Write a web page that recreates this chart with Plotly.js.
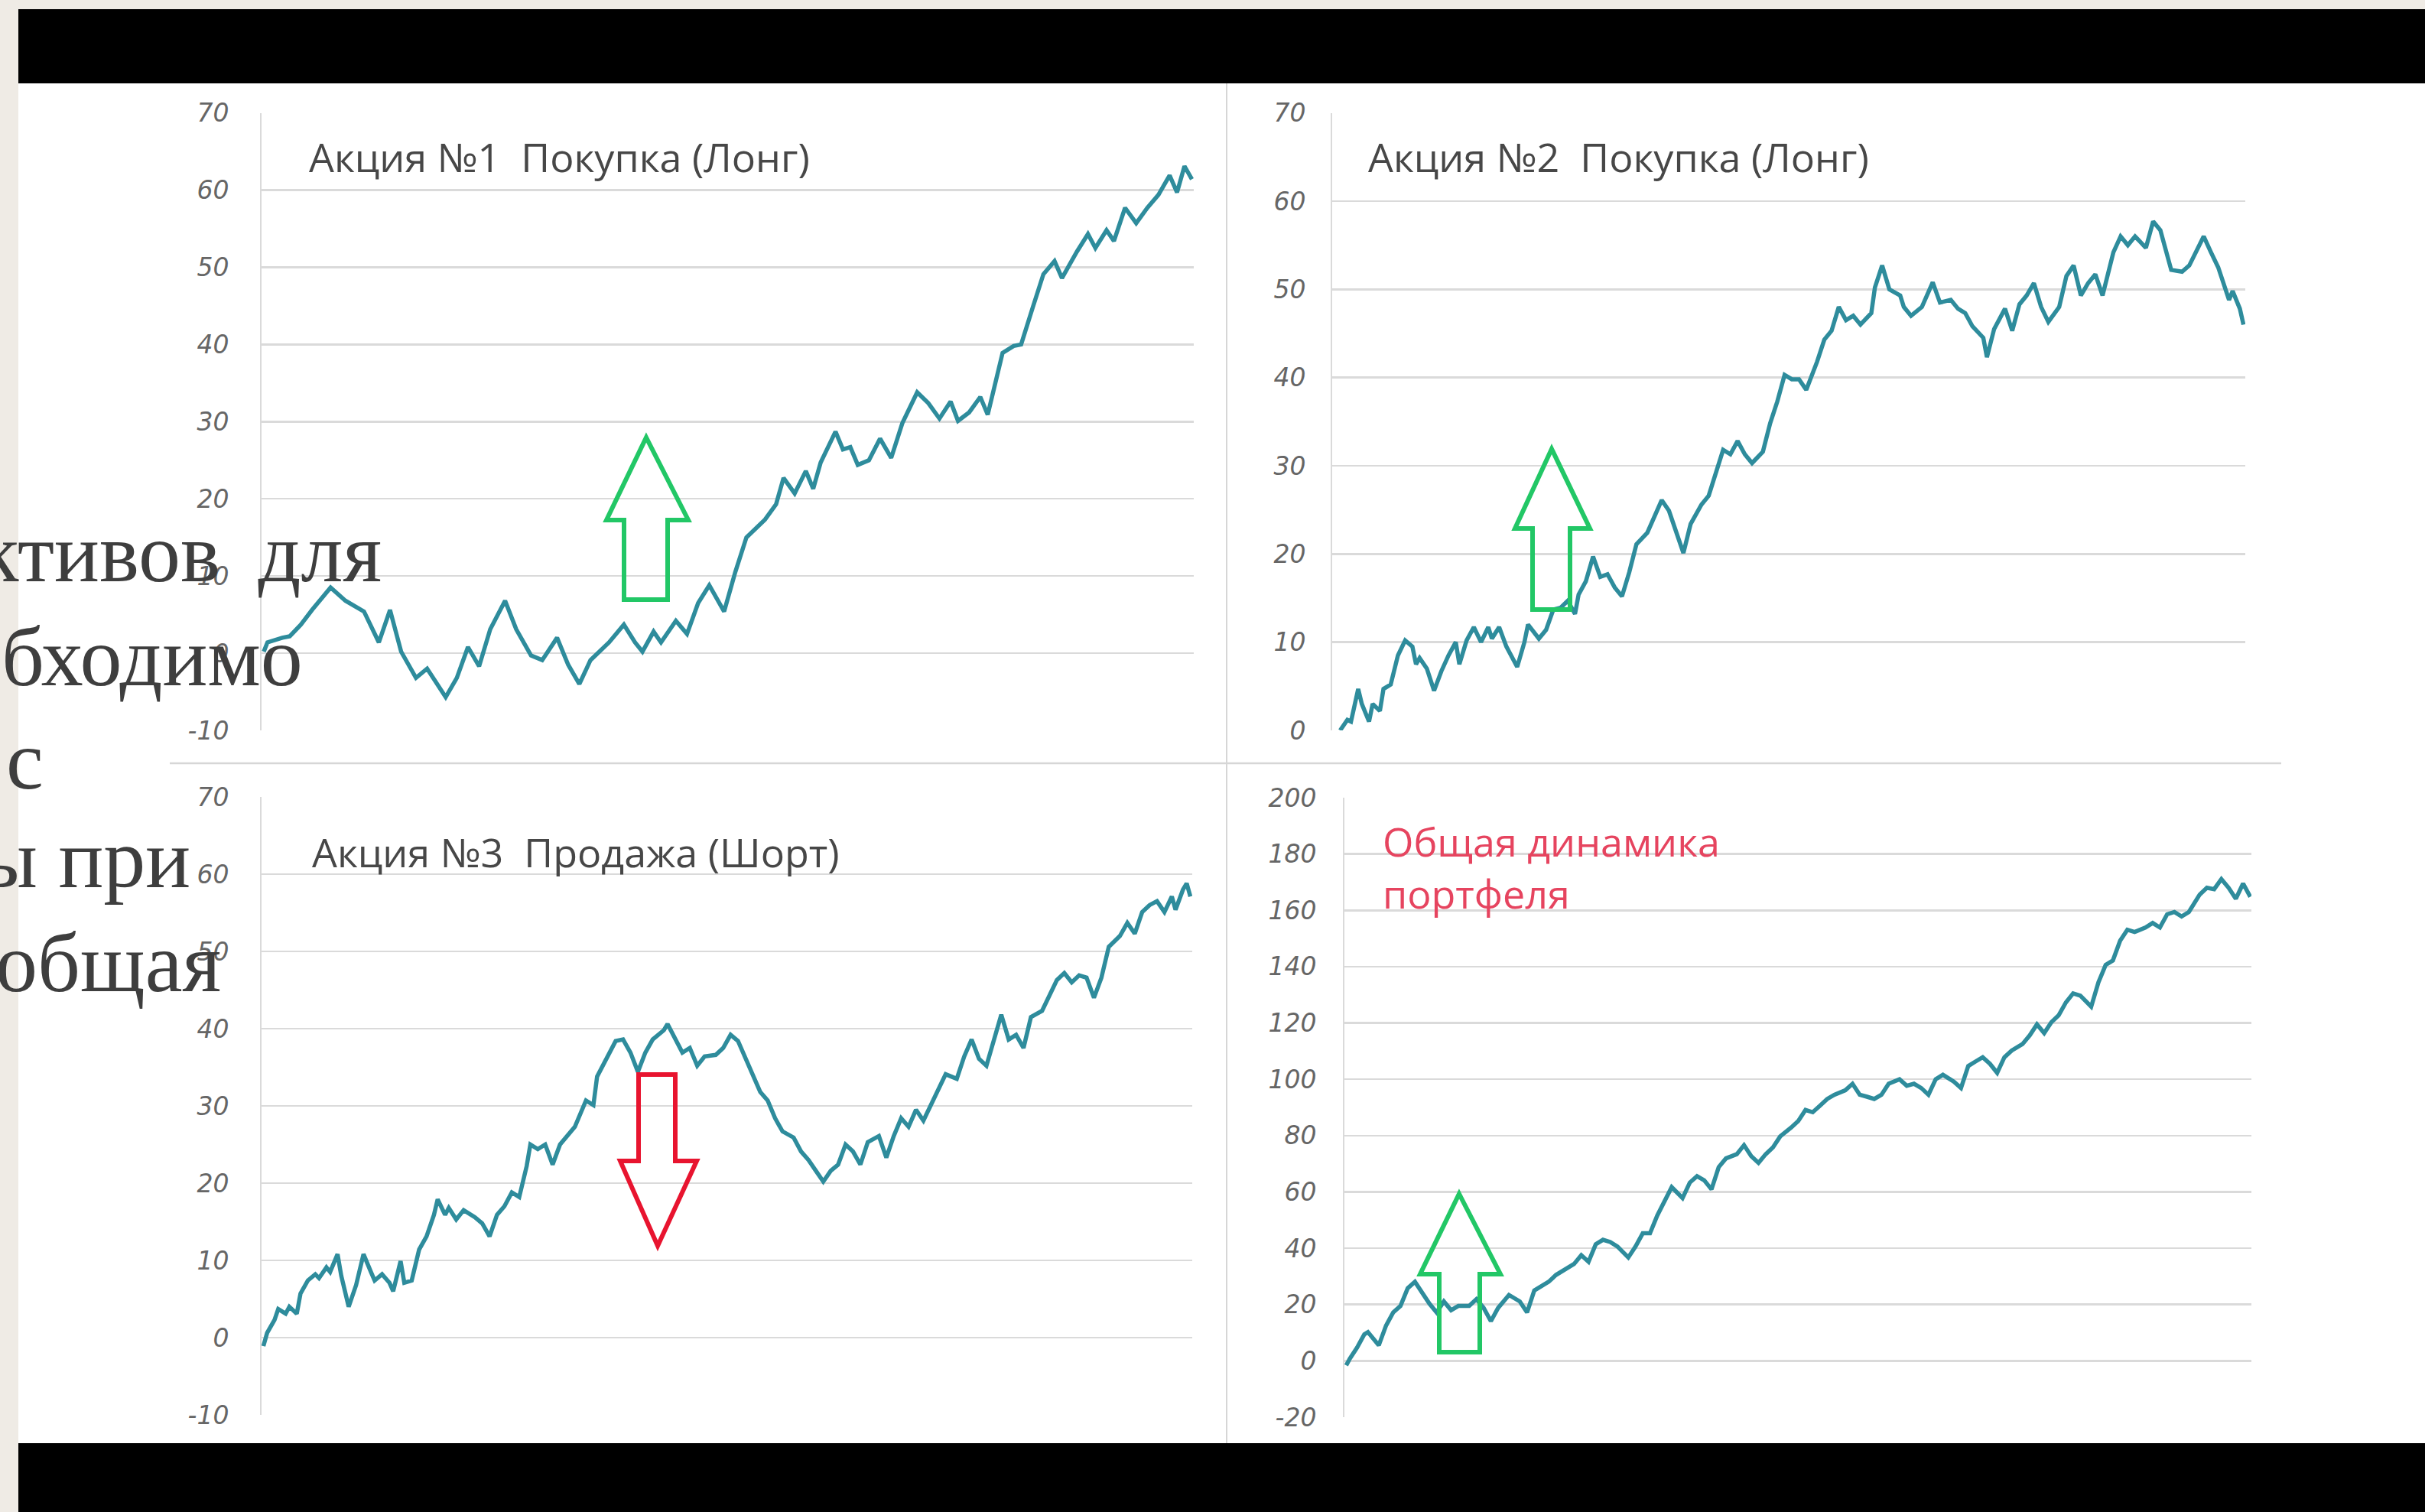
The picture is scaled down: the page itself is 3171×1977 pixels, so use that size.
<!DOCTYPE html>
<html>
<head>
<meta charset="utf-8">
<script src="https://cdn.plot.ly/plotly-3.0.1.min.js"></script>
<style>html,body{margin:0;padding:0;background:#efebe5;}#chart{width:3171px;height:1977px;}</style>
</head>
<body>
<div id="chart"></div>
<script>
// ---- Data ----
const days1 = [0,1,5,7,10,13,18,22,27,31,34,37,41,44,49,52,55,58,61,65,68,72,75,79,82,85,88,93,97,100,102,105,107,111,114,117,120,124,127,130,135,138,140,143,146,148,150,154,156,158,160,163,166,169,172,176,179,182,185,187,190,193,195,199,202,204,207,210,213,215,219,222,224,227,229,232,235,238,241,244,246,248,250];
const stock1 = [0.2,1.4,2.0,2.2,3.7,5.6,8.5,6.8,5.4,1.4,5.6,0.2,-3.2,-2.0,-5.7,-3.2,0.8,-1.7,3.1,6.8,3.1,-0.3,-0.9,2.0,-1.5,-4.0,-0.9,1.4,3.7,1.4,0.2,2.8,1.4,4.2,2.5,6.5,8.8,5.4,10.5,15.0,17.3,19.3,22.7,20.7,23.6,21.3,24.7,28.7,26.4,26.7,24.4,25.0,27.8,25.3,29.8,33.8,32.4,30.4,32.6,30.1,31.2,33.2,30.9,38.9,39.8,40.0,44.6,49.1,50.8,48.6,52.0,54.3,52.5,54.8,53.4,57.7,55.7,57.7,59.4,61.9,59.7,63.1,61.4];

const days2 = [0,2,3,5,6,8,9,11,12,14,16,18,20,21,22,24,26,28,30,32,33,35,37,39,41,42,44,46,49,51,52,55,57,59,61,63,65,66,68,70,72,74,76,78,80,82,85,87,89,91,93,95,97,100,102,104,106,108,110,112,114,117,119,121,123,125,127,129,132,134,136,138,140,142,144,147,148,150,152,155,156,158,161,164,166,169,171,173,175,178,179,181,184,186,188,190,192,194,196,199,201,203,205,207,209,211,214,216,218,220,223,225,227,230,233,235,239,241,243,246,247,249,250];
const stock2 = [0,1.2,1.0,4.7,3.0,1.0,3.0,2.2,4.7,5.2,8.5,10.2,9.5,7.5,8.2,7.0,4.5,6.7,8.5,10.0,7.5,10.2,11.7,10.0,11.7,10.4,11.7,9.5,7.2,10.0,12.0,10.4,11.4,13.7,13.9,14.7,13.2,15.4,16.9,19.7,17.4,17.7,16.2,15.2,17.9,21.1,22.4,24.4,26.1,24.9,22.4,20.1,23.4,25.6,26.6,29.4,31.8,31.3,32.8,31.3,30.3,31.6,34.8,37.3,40.3,39.8,39.8,38.6,41.8,44.3,45.3,48.0,46.5,47.0,46.0,47.3,50.2,52.7,50.0,49.3,48.0,47.0,48.0,50.8,48.5,48.8,47.8,47.3,45.8,44.5,42.3,45.5,47.8,45.3,48.3,49.3,50.7,48.0,46.3,48.0,51.5,52.7,49.3,50.7,51.7,49.3,54.2,56.0,55.0,56.0,54.7,57.7,56.7,52.2,52.0,52.7,56.0,54.2,52.5,48.8,49.8,47.8,46.0];

const days3 = [0,1,3,4,6,7,9,10,12,14,15,17,18,20,21,23,25,27,29,30,32,34,35,37,38,40,42,44,46,47,49,50,52,54,57,59,61,63,65,67,69,71,72,74,76,78,80,82,84,87,89,90,93,95,97,99,101,103,105,108,109,111,113,115,117,119,122,124,126,128,130,132,134,136,138,140,143,145,147,149,151,153,155,157,159,161,163,166,168,170,172,174,176,178,180,182,184,187,189,191,193,195,197,199,201,203,205,207,210,212,214,216,218,220,222,224,226,228,231,233,235,237,239,241,243,245,246,248,249,250];
const stock3 = [-1.1,0.6,2.3,3.7,3.1,4.0,3.1,5.7,7.4,8.2,7.7,9.1,8.5,10.8,8.0,4.0,6.8,10.8,8.5,7.4,8.2,7.1,6.0,9.9,7.1,7.4,11.4,13.1,15.9,17.9,15.9,16.8,15.3,16.5,15.6,14.8,13.1,15.9,17.0,18.8,18.2,22.2,25.0,24.4,25.0,22.4,25.0,26.1,27.3,30.7,30.1,33.8,36.4,38.4,38.6,36.9,34.4,36.9,38.6,39.8,40.6,38.6,36.9,37.5,35.2,36.4,36.6,37.5,39.2,38.4,36.1,33.8,31.8,30.7,28.4,26.7,25.9,24.1,23.0,21.6,20.2,21.6,22.4,25.0,24.1,22.4,25.3,26.1,23.3,26.1,28.4,27.3,29.5,28.1,30.1,31.8,34.1,33.5,36.4,38.6,36.1,35.2,38.6,41.8,38.6,39.2,37.5,41.5,42.3,44.3,46.3,47.2,46.0,46.9,46.6,44.0,46.6,50.6,52.0,53.7,52.3,55.1,56.0,56.5,55.1,57.1,55.4,58.0,58.8,57.1];

const daysP = [0,1,3,5,6,9,11,13,15,17,19,21,23,25,27,29,31,34,36,38,40,42,45,48,50,52,54,56,58,60,63,65,67,69,71,73,75,78,80,82,84,86,88,90,93,95,97,99,101,103,105,108,110,112,114,116,118,120,123,125,127,129,131,133,135,138,140,142,144,146,148,150,153,155,157,159,161,163,165,168,170,172,174,176,178,180,182,184,187,189,191,193,195,197,199,201,203,206,208,210,212,214,216,218,221,223,225,227,229,231,233,236,238,240,242,244,246,248,250];
const portfolio = [-1.6,0.8,4.7,9.4,10.2,5.5,12.5,17.2,19.5,25.8,28.1,24.2,20.3,17.2,21.1,18.0,19.5,19.5,21.9,18.8,14.1,18.8,23.4,21.1,17.2,25.0,26.6,28.1,30.5,32.0,34.4,37.5,35.2,41.4,43.0,42.2,40.6,36.7,40.6,45.3,45.3,51.6,56.3,61.7,57.8,63.3,65.6,64.1,60.9,68.8,71.9,73.4,76.6,72.7,70.3,73.4,75.8,79.7,82.8,85.2,89.1,88.3,90.6,93.0,94.5,96.1,98.4,94.5,93.8,93.0,94.5,98.4,100.0,97.7,98.4,96.9,94.5,100.0,101.6,99.2,96.9,104.7,106.3,107.8,105.5,102.3,107.8,110.2,112.5,115.6,119.5,116.4,120.3,122.7,127.3,130.5,129.7,125.8,134.4,140.6,142.2,149.2,153.1,152.3,153.9,155.5,153.9,158.6,159.4,157.8,159.4,165.6,168.0,167.5,171.1,168.0,164.1,169.5,164.8];

// ---- Tick labels ----
const tickVals70 = [-10, 0, 10, 20, 30, 40, 50, 60, 70];
const tickText70 = ["-10", "0", "10", "20", "30", "40", "50", "60", "70"];
const tickVals2 = [0, 10, 20, 30, 40, 50, 60, 70];
const tickText2 = ["0", "10", "20", "30", "40", "50", "60", "70"];
const tickValsP = [-20, 0, 20, 40, 60, 80, 100, 120, 140, 160, 180, 200];
const tickTextP = ["-20", "0", "20", "40", "60", "80", "100", "120", "140", "160", "180", "200"];

const titles = ["Акция №1  Покупка (Лонг)", "Акция №2  Покупка (Лонг)", "Акция №3  Продажа (Шорт)", "Общая динамика<br>портфеля"];
const sideText = ["ктивов\u2009 для", "бходимо", "с", "ы при", "общая"];

// ---- Layout helpers (pixel -> paper) ----
const W = 3171, H = 1977;
const px = x => x / W, py = y => 1 - y / H;
const LINE = '#2e8c9c', GRID = '#dadada', GREEN = '#22c766', RED = '#e8142f';

function tr(x, y, xa, ya) {
  return {x: x, y: y, xaxis: xa, yaxis: ya, type: 'scatter', mode: 'lines',
    line: {color: LINE, width: 5.5}, hoverinfo: 'skip', showlegend: false};
}
const data = [
  tr(days1, stock1, 'x', 'y'),
  tr(days2, stock2, 'x2', 'y2'),
  tr(days3, stock3, 'x3', 'y3'),
  tr(daysP, portfolio, 'x4', 'y4')
];

function xax(l, r, range, anchor) {
  return {domain: [px(l), px(r)], range: range, anchor: anchor, showgrid: false, zeroline: false,
    showticklabels: false, showline: false, fixedrange: true};
}
function yax(t, b, range, tv, tt, standoff, anchor) {
  return {domain: [py(b), py(t)], range: range, tickmode: 'array', tickvals: tv, ticktext: tt, anchor: anchor,
    showgrid: true, gridcolor: GRID, gridwidth: 2.5, zeroline: false,
    showline: true, linecolor: GRID, linewidth: 2, ticks: '', ticklabelstandoff: standoff,
    tickfont: {family: 'DejaVu Sans', size: 33, color: '#666666', style: 'italic'}, fixedrange: true};
}

function upArrow(tipX, tipY, headY, hl, hr, sl, sr, botY) {
  const p = (x, y) => px(x) + ',' + py(y);
  return 'M' + p(tipX, tipY) + ' L' + p(hr, headY) + ' L' + p(sr, headY) + ' L' + p(sr, botY) +
    ' L' + p(sl, botY) + ' L' + p(sl, headY) + ' L' + p(hl, headY) + ' Z';
}

const shapes = [
  {type: 'rect', xref: 'paper', yref: 'paper', x0: px(24), x1: 1, y0: py(1977), y1: py(12), fillcolor: '#ffffff', line: {width: 0}, layer: 'below'},
  {type: 'rect', xref: 'paper', yref: 'paper', x0: px(24), x1: 1, y0: py(109), y1: py(12), fillcolor: '#000000', line: {width: 0}, layer: 'below'},
  {type: 'rect', xref: 'paper', yref: 'paper', x0: px(24), x1: 1, y0: 0, y1: py(1887), fillcolor: '#000000', line: {width: 0}, layer: 'below'},
  {type: 'line', xref: 'paper', yref: 'paper', x0: px(1604), x1: px(1604), y0: py(109), y1: py(1887), line: {color: '#d6d6d6', width: 2}, layer: 'below'},
  {type: 'line', xref: 'paper', yref: 'paper', x0: px(222), x1: px(2983), y0: py(998), y1: py(998), line: {color: '#d6d6d6', width: 2.5}, layer: 'below'},
  {type: 'path', xref: 'paper', yref: 'paper', path: upArrow(845, 572, 680, 793, 900, 816, 873, 784), line: {color: GREEN, width: 6}, fillcolor: 'rgba(0,0,0,0)'},
  {type: 'path', xref: 'paper', yref: 'paper', path: upArrow(2029, 587, 691, 1981, 2079, 2004, 2053, 797), line: {color: GREEN, width: 6}, fillcolor: 'rgba(0,0,0,0)'},
  {type: 'path', xref: 'paper', yref: 'paper', path: upArrow(1908, 1561, 1666, 1857, 1962, 1882, 1935, 1768), line: {color: GREEN, width: 6}, fillcolor: 'rgba(0,0,0,0)'},
  {type: 'path', xref: 'paper', yref: 'paper', path: upArrow(860, 1629, 1518, 811, 911, 835, 883, 1405), line: {color: RED, width: 6}, fillcolor: 'rgba(0,0,0,0)'}
];

function ann(text, x, baseline, size, color, family, anchor) {
  return {text: text, xref: 'paper', yref: 'paper', x: px(x), y: py(baseline - size * 0.33),
    xanchor: anchor || 'left', yanchor: 'middle', showarrow: false, align: 'left',
    font: {family: family, size: size, color: color}};
}
const TF = 'Open Sans';
const SF = 'Liberation Serif';
const annotations = [
  ann(titles[0], 402, 222, 52, '#474747', TF),
  ann(titles[1], 1787, 222, 52, '#474747', TF),
  ann(titles[2], 406, 1131, 52, '#474747', TF),
  {text: titles[3], xref: 'paper', yref: 'paper', x: px(1806), y: py(1133), xanchor: 'left', yanchor: 'middle',
    showarrow: false, align: 'left', font: {family: TF, size: 52, color: '#e6445f'}},
  ann(sideText[0], 501, 759, 110, '#3e3e3e', SF, 'right'),
  ann(sideText[1], 398, 895, 110, '#3e3e3e', SF, 'right'),
  ann(sideText[2], 59, 1030, 110, '#3e3e3e', SF, 'right'),
  ann(sideText[3], 251, 1159, 110, '#3e3e3e', SF, 'right'),
  ann(sideText[4], 291, 1295, 110, '#3e3e3e', SF, 'right')
];

const layout = {
  width: W, height: H, margin: {l: 0, r: 0, t: 0, b: 0, pad: 0},
  paper_bgcolor: '#efebe5', plot_bgcolor: 'rgba(0,0,0,0)', showlegend: false,
  xaxis: xax(342, 1561, [-0.6, 250.5], 'y'),
  yaxis: yax(147.6, 955, [-10, 70], tickVals70, tickText70, 34, 'x'),
  xaxis2: xax(1742, 2936, [-2.2, 250.5], 'y2'),
  yaxis2: yax(147.6, 955, [0, 70], tickVals2, tickText2, 26, 'x2'),
  xaxis3: xax(342, 1559, [-0.5, 250.5], 'y3'),
  yaxis3: yax(1042, 1850, [-10, 70], tickVals70, tickText70, 34, 'x3'),
  xaxis4: xax(1758, 2944, [-0.5, 250.3], 'y4'),
  yaxis4: yax(1043, 1853, [-20, 200], tickValsP, tickTextP, 28, 'x4'),
  shapes: shapes, annotations: annotations
};

Plotly.newPlot('chart', data, layout, {staticPlot: true, displayModeBar: false});
</script>
</body>
</html>
